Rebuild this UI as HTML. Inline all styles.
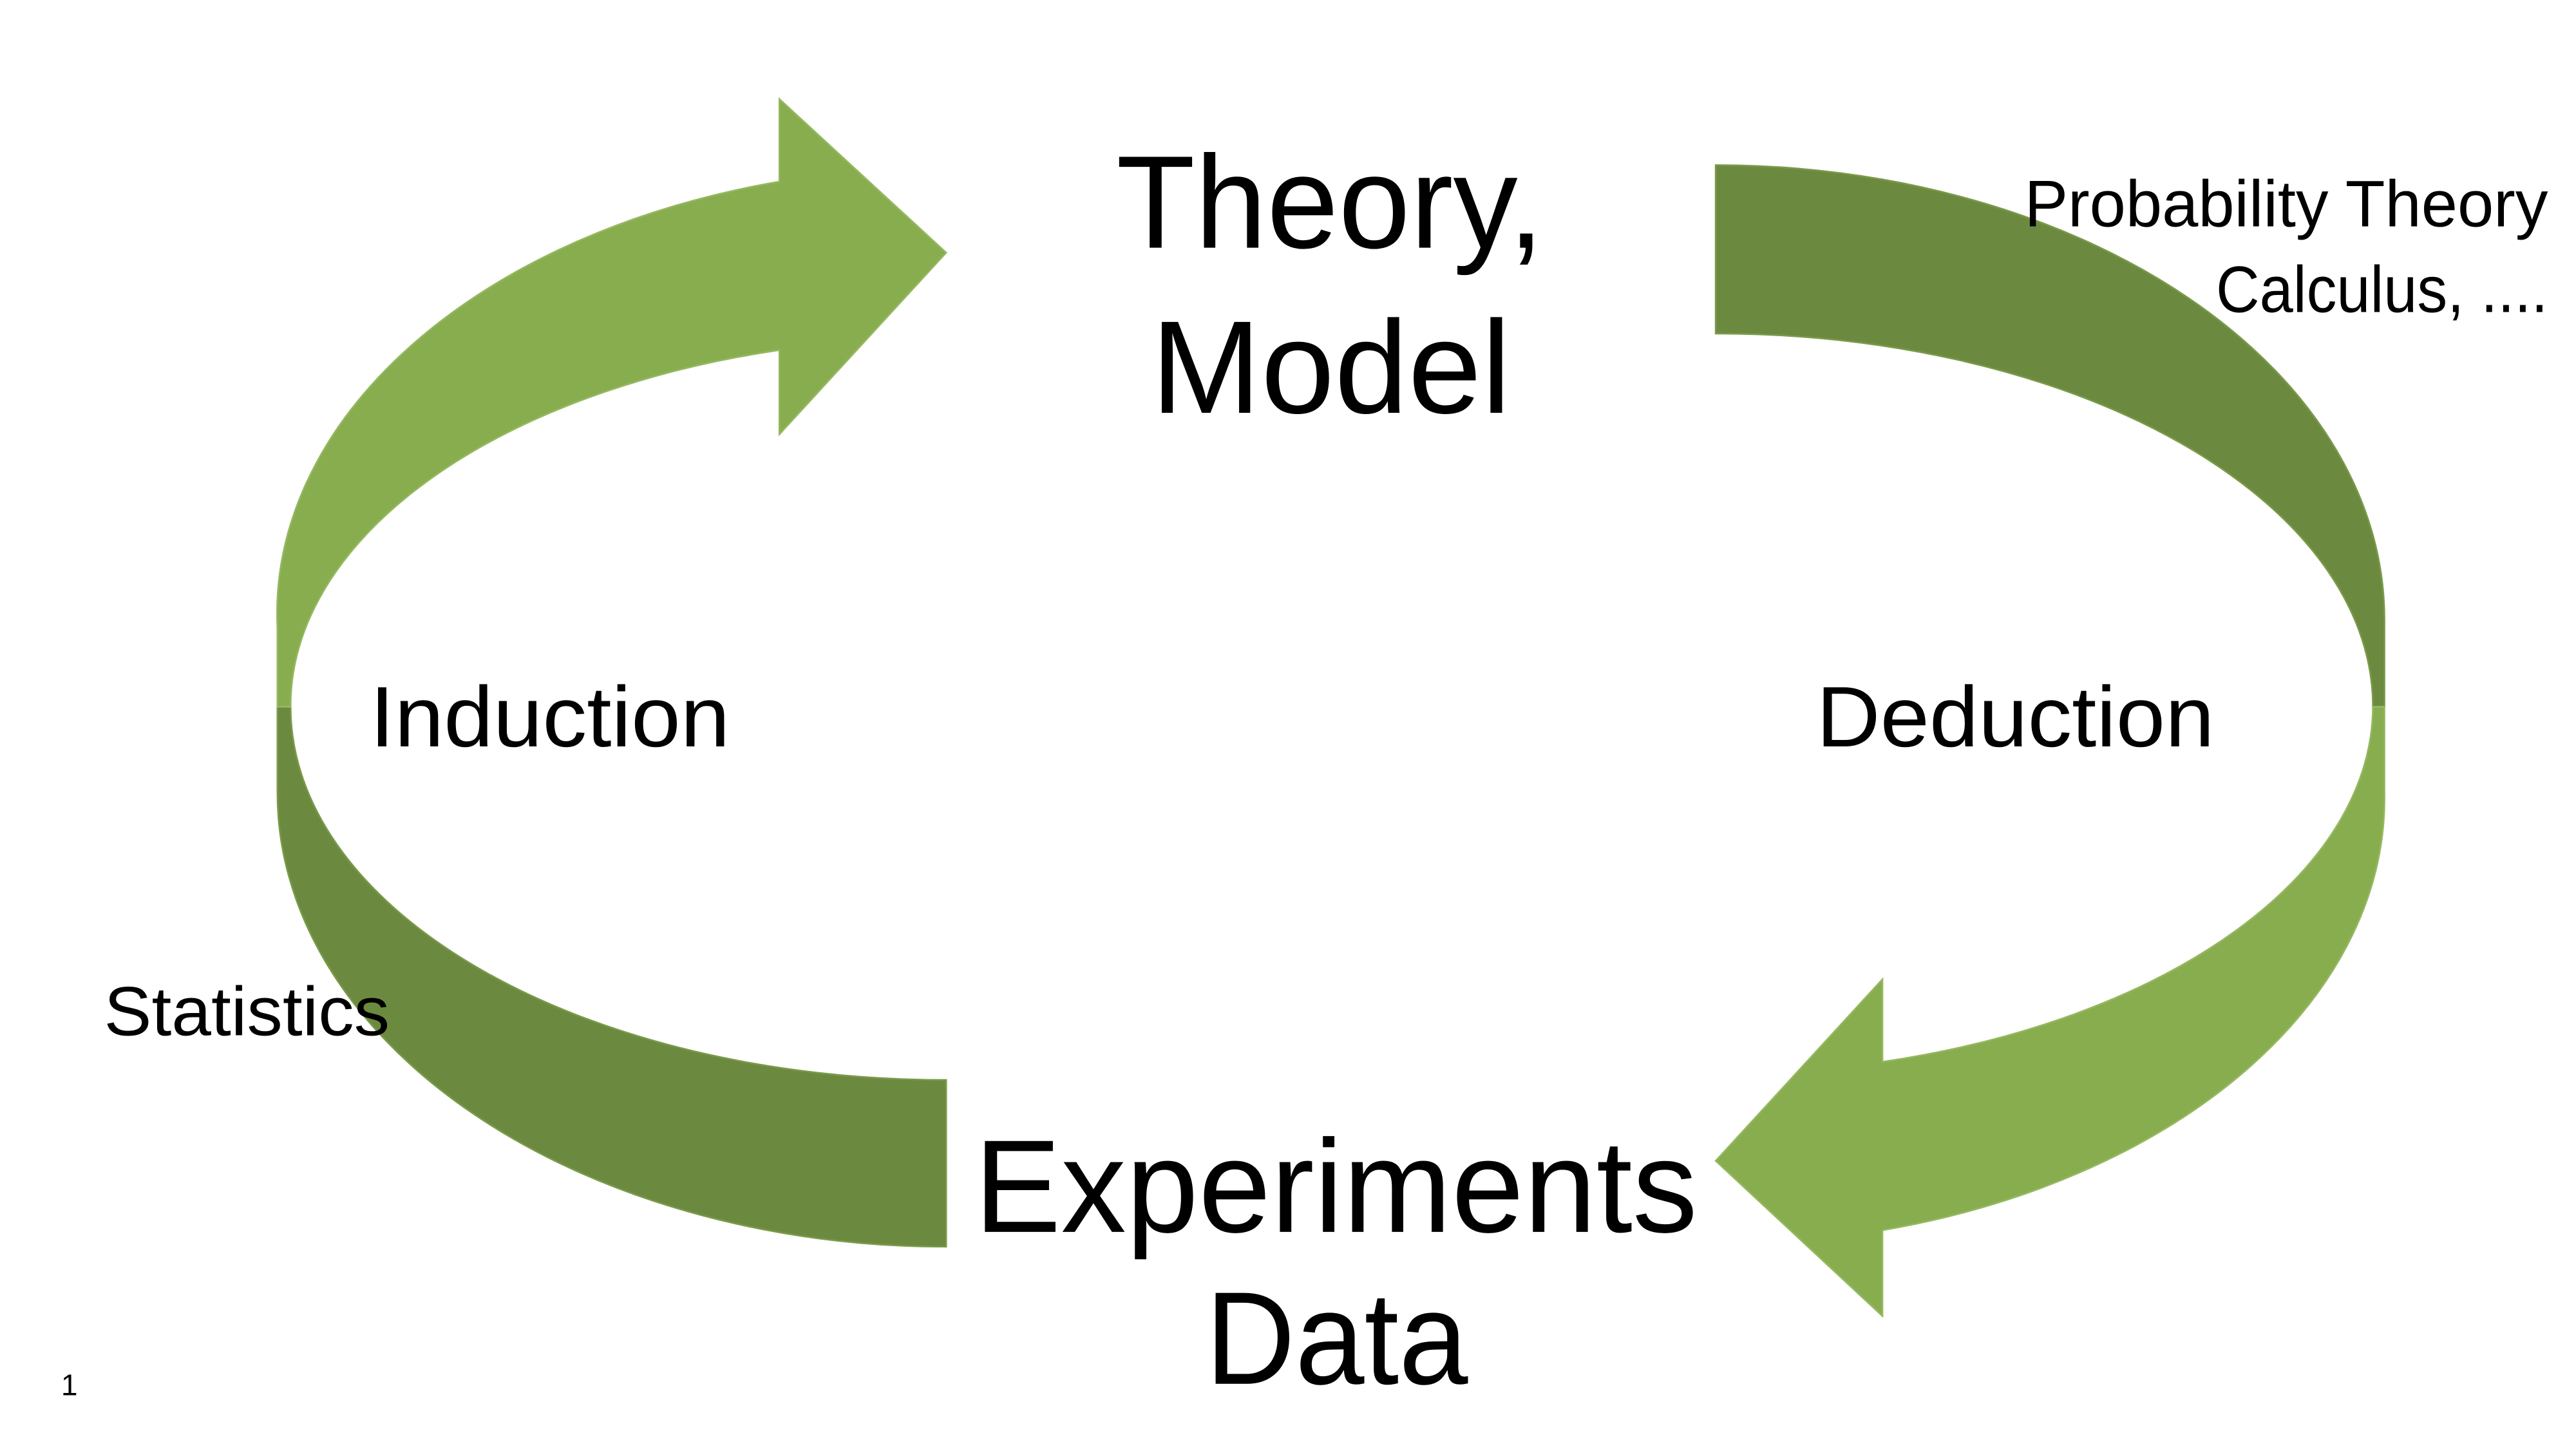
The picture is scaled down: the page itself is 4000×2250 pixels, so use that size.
<!DOCTYPE html>
<html><head><meta charset="utf-8"><style>html,body{margin:0;padding:0;background:#fff}svg{display:block}</style></head>
<body>
<svg width="4000" height="2250" viewBox="0 0 1560 877.5" xmlns="http://www.w3.org/2000/svg" font-family="'Liberation Sans', sans-serif" fill="#000">
<rect width="1560" height="877.5" fill="#fff"/>
<!-- left arrow -->
<path d="M168,428 L168,480 A405,275 0 0 0 573,755 L573,654 A397,226 0 0 1 176,428 Z" fill="#6B8A40" stroke="#7a9a4a" stroke-width="1"/>
<path d="M472,110 A405,270 0 0 0 168,380 L168,428 L176,428 A397,223 0 0 1 472,212 L472,263 L573,153 L472,60 Z" fill="#88AD4F" stroke="#95b860" stroke-width="1"/>
<!-- right arrow -->
<path d="M1039,100 A405,275 0 0 1 1444,375 L1444,428 L1437,428 A398,226 0 0 0 1039,202 Z" fill="#6B8A40" stroke="#7a9a4a" stroke-width="1"/>
<path d="M1444,428 L1444,480 A405,270 0 0 1 1140,745 L1140,797 L1039,703 L1140,593 L1140,643 A398,223 0 0 0 1437,428 Z" fill="#88AD4F" stroke="#95b860" stroke-width="1"/>
<!-- text -->
<text x="676" y="150" font-size="80" textLength="259" lengthAdjust="spacingAndGlyphs">Theory,</text>
<text x="697" y="250" font-size="80" textLength="218" lengthAdjust="spacingAndGlyphs">Model</text>
<text x="590" y="746" font-size="80" textLength="438" lengthAdjust="spacingAndGlyphs">Experiments</text>
<text x="730" y="838" font-size="80" textLength="159" lengthAdjust="spacingAndGlyphs">Data</text>
<text x="224" y="452" font-size="52" textLength="218" lengthAdjust="spacingAndGlyphs">Induction</text>
<text x="1100" y="452" font-size="52" textLength="241" lengthAdjust="spacingAndGlyphs">Deduction</text>
<text x="63" y="627" font-size="42" textLength="173" lengthAdjust="spacingAndGlyphs">Statistics</text>
<text x="1226" y="137" font-size="40" textLength="317" lengthAdjust="spacingAndGlyphs">Probability Theory</text>
<text x="1342" y="189" font-size="40" textLength="201" lengthAdjust="spacingAndGlyphs">Calculus, ....</text>
<text x="37" y="845" font-size="18">1</text>
</svg>
</body></html>
